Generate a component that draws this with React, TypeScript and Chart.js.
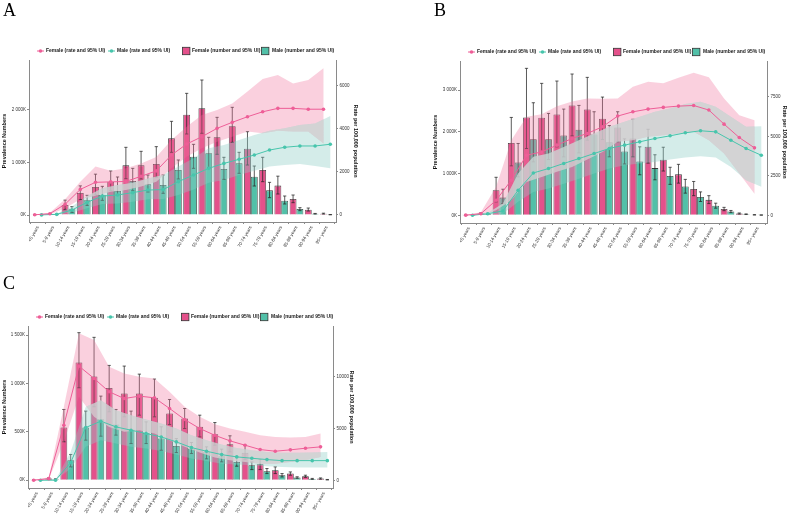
import React, { useEffect, useRef } from "react";
import { Chart, registerables } from "chart.js";

Chart.register(...registerables);

// ---------- categories ----------
const AGE_GROUPS = [
  "<5 years", "5-9 years", "10-14 years", "15-19 years", "20-24 years",
  "25-29 years", "30-34 years", "35-39 years", "40-44 years", "45-49 years",
  "50-54 years", "55-59 years", "60-64 years", "65-69 years", "70-74 years",
  "75-79 years", "80-84 years", "85-89 years", "90-94 years", "95+ years",
];

// ---------- panel A (numbers in thousands, rates per 100,000) ----------
const femaleNumA = [5, 20, 190, 419, 533, 635, 946, 946, 971, 1460, 1910, 2032, 1480, 1689, 1263, 857, 560, 305, 102, 25];
const femaleNumLoA = [2, 12, 100, 295, 385, 465, 692, 686, 717, 1194, 1543, 1556, 1156, 1384, 952, 635, 400, 235, 76, 18];
const femaleNumHiA = [9, 30, 283, 555, 778, 838, 1289, 1213, 1302, 1784, 2317, 2571, 1860, 2051, 1587, 1099, 740, 381, 133, 35];
const maleNumA = [4, 10, 112, 279, 387, 457, 648, 584, 571, 857, 1111, 1175, 876, 984, 730, 470, 273, 114, 25, 6];
const maleNumLoA = [2, 6, 50, 182, 279, 381, 463, 438, 413, 686, 889, 902, 679, 794, 552, 330, 210, 83, 18, 4];
const maleNumHiA = [7, 16, 160, 375, 546, 724, 889, 762, 762, 1048, 1346, 1480, 1099, 1194, 933, 622, 362, 140, 30, 9];
const femaleRateA = [10, 60, 500, 1190, 1520, 1540, 1560, 1800, 2050, 2790, 3300, 3640, 4030, 4310, 4570, 4800, 4960, 4960, 4920, 4920];
const femaleRateLoA = [0, 20, 310, 730, 900, 1085, 1160, 1320, 1550, 2170, 2710, 3100, 3410, 3640, 3880, 3800, 3920, 3880, 3880, 3330];
const femaleRateHiA = [20, 110, 730, 1550, 2250, 2060, 2170, 2400, 2700, 3490, 4100, 4650, 4880, 5190, 5740, 6330, 6510, 6120, 6280, 6820];
const maleRateA = [5, 30, 230, 590, 880, 930, 1040, 1160, 1180, 1550, 1860, 2170, 2400, 2590, 2790, 3020, 3150, 3210, 3210, 3290];
const maleRateLoA = [0, 10, 110, 310, 510, 540, 620, 730, 740, 930, 1190, 1500, 1630, 1860, 2060, 2250, 2330, 2370, 2280, 2170];
const maleRateHiA = [10, 60, 390, 880, 1240, 1400, 1500, 1700, 1860, 2250, 2640, 3100, 3260, 3490, 3720, 3920, 4030, 4190, 4260, 4600];

// ---------- panel B ----------
const femaleNumB = [3, 40, 600, 1730, 2344, 2336, 2416, 2632, 2536, 2312, 2100, 1840, 1640, 1330, 980, 630, 370, 150, 40, 10];
const femaleNumLoB = [1, 25, 320, 1184, 1600, 1520, 1640, 1904, 1800, 1816, 1760, 1400, 1250, 1060, 770, 470, 280, 110, 28, 6];
const femaleNumHiB = [6, 60, 910, 2344, 3520, 3160, 3216, 3384, 3304, 2832, 2480, 2300, 2060, 1630, 1220, 810, 470, 190, 55, 15];
const maleNumB = [2, 32, 424, 1264, 1824, 1824, 1912, 2048, 1936, 1750, 1530, 1290, 1130, 940, 690, 440, 230, 90, 25, 5];
const maleNumLoB = [1, 20, 280, 920, 1280, 1336, 1400, 1496, 1464, 1400, 1230, 970, 850, 740, 530, 330, 170, 65, 18, 3];
const maleNumHiB = [4, 45, 624, 1720, 2696, 2440, 2544, 2632, 2480, 2150, 1830, 1640, 1450, 1150, 860, 560, 290, 115, 33, 8];
const femaleRateB = [10, 100, 950, 2220, 3800, 4010, 4440, 4860, 5180, 5600, 6280, 6550, 6720, 6830, 6910, 6950, 6660, 5770, 4920, 4270];
const femaleRateLoB = [0, 20, 320, 950, 2110, 2430, 2750, 3060, 3530, 4010, 4650, 4750, 4970, 5070, 5180, 5280, 4750, 3910, 2640, 1370];
const femaleRateHiB = [20, 200, 1800, 4750, 6230, 6400, 6900, 7200, 7400, 7380, 7400, 8140, 8450, 8350, 8700, 9020, 8730, 7400, 6340, 6020];
const maleRateB = [5, 100, 275, 1580, 2680, 2960, 3280, 3590, 3910, 4230, 4440, 4650, 4860, 5030, 5220, 5350, 5280, 4750, 4230, 3800];
const maleRateLoB = [0, 30, 100, 850, 1480, 1690, 2000, 2320, 2640, 2960, 3170, 3280, 3380, 3530, 3660, 3740, 3660, 3060, 2220, 1800];
const maleRateHiB = [10, 150, 740, 2640, 3700, 3910, 4330, 4750, 5180, 5600, 5920, 6230, 6550, 6760, 7040, 7180, 6870, 6230, 5600, 5640];

// ---------- panel C ----------
const femaleNumC = [2, 17, 545, 1217, 1072, 952, 897, 897, 852, 690, 638, 552, 476, 372, 283, 166, 103, 69, 41, 17];
const femaleNumLoC = [1, 10, 397, 955, 759, 707, 655, 672, 655, 576, 534, 448, 362, 293, 214, 110, 69, 52, 30, 11];
const femaleNumHiC = [4, 25, 731, 1524, 1476, 1186, 1179, 1096, 1045, 834, 741, 672, 596, 459, 362, 214, 138, 86, 52, 24];
const maleNumC = [1, 10, 207, 545, 631, 576, 524, 490, 431, 355, 328, 293, 248, 190, 155, 93, 52, 28, 14, 5];
const maleNumLoC = [0, 6, 138, 414, 455, 466, 379, 379, 310, 286, 276, 221, 190, 145, 110, 69, 34, 20, 9, 3];
const maleNumHiC = [2, 15, 266, 714, 869, 731, 714, 603, 552, 431, 390, 345, 321, 241, 190, 121, 69, 36, 19, 8];
const femaleRateC = [10, 160, 5320, 11030, 9840, 8550, 7900, 8130, 7970, 6940, 5870, 5000, 4350, 3810, 3390, 2970, 2810, 2940, 3100, 3230];
const femaleRateLoC = [0, 80, 3710, 8060, 6130, 5160, 4680, 4840, 4520, 3870, 3230, 2680, 2190, 1940, 1770, 1610, 1610, 1770, 1940, 2260];
const femaleRateHiC = [20, 300, 7100, 14200, 13550, 10970, 10320, 10000, 9840, 8550, 7100, 6130, 5420, 5000, 4680, 4350, 4190, 4130, 4190, 4520];
const maleRateC = [5, 10, 1710, 5100, 5710, 5160, 4840, 4520, 4190, 3710, 3160, 2810, 2480, 2260, 2130, 2000, 1900, 1900, 1900, 1900];
const maleRateLoC = [0, 0, 1130, 3230, 3870, 3550, 3230, 3060, 2840, 2480, 2100, 1870, 1610, 1520, 1450, 1350, 1290, 1230, 1230, 1230];
const maleRateHiC = [10, 50, 2740, 7100, 7740, 6770, 6290, 5870, 5480, 5000, 4350, 3870, 3450, 3130, 2900, 2740, 2650, 2650, 2680, 2740];

// ---------- axis ticks ----------
const numTicksA = [0, 1000, 2000];
const rateTicksA = [0, 2000, 4000, 6000];
const numTicksB = [0, 1000, 2000, 3000];
const rateTicksB = [0, 2500, 5000, 7500];
const numTicksC = [0, 500, 1000, 1500];
const rateTicksC = [0, 5000, 10000];

// ---------- styling ----------
const SANS = "'Liberation Sans', Arial, sans-serif";
const FEMALE_BAR = "#E4518B";
const MALE_BAR = "#52C0A8";
const FEMALE_LINE = "#EE5E97";
const MALE_LINE = "#47C5AC";
const FEMALE_BAND = "rgba(241,112,155,0.33)";
const MALE_BAND = "rgba(141,206,198,0.38)";
const OVERLAP_BAND = "rgba(212,212,212,0.7)";
const AXIS_GREY = "#8a8a8a";
const DODGE = 0.225;

type Series = { val: number[]; lo: number[]; hi: number[] };
type PanelCfg = {
  letter: string;
  letterDy: number;
  x: number; y: number; w: number; h: number;
  left: number; right: number; top: number; bottom: number;
  numMin: number; numMax: number; rateMin: number; rateMax: number;
  numTicks: number[]; rateTicks: number[];
  fNum: Series; mNum: Series; fRate: Series; mRate: Series;
};

const PANELS: PanelCfg[] = [
  {
    letter: "A", letterDy: 0, x: 0, y: 0, w: 360, h: 260, left: 29, right: 336, top: 60, bottom: 222,
    numMin: -133, numMax: 2952, rateMin: -326, rateMax: 7209,
    numTicks: numTicksA, rateTicks: rateTicksA,
    fNum: { val: femaleNumA, lo: femaleNumLoA, hi: femaleNumHiA },
    mNum: { val: maleNumA, lo: maleNumLoA, hi: maleNumHiA },
    fRate: { val: femaleRateA, lo: femaleRateLoA, hi: femaleRateHiA },
    mRate: { val: maleRateA, lo: maleRateLoA, hi: maleRateHiA },
  },
  {
    letter: "B", letterDy: 0, x: 431, y: 0, w: 358, h: 260, left: 29, right: 336, top: 61, bottom: 223,
    numMin: -185, numMax: 3696, rateMin: -488, rateMax: 9766,
    numTicks: numTicksB, rateTicks: rateTicksB,
    fNum: { val: femaleNumB, lo: femaleNumLoB, hi: femaleNumHiB },
    mNum: { val: maleNumB, lo: maleNumLoB, hi: maleNumHiB },
    fRate: { val: femaleRateB, lo: femaleRateLoB, hi: femaleRateHiB },
    mRate: { val: maleRateB, lo: maleRateLoB, hi: maleRateHiB },
  },
  {
    letter: "C", letterDy: 7, x: 0, y: 266, w: 356, h: 249, left: 28, right: 333, top: 60, bottom: 222,
    numMin: -80, numMax: 1593, rateMin: -745, rateMax: 14908,
    numTicks: numTicksC, rateTicks: rateTicksC,
    fNum: { val: femaleNumC, lo: femaleNumLoC, hi: femaleNumHiC },
    mNum: { val: maleNumC, lo: maleNumLoC, hi: maleNumHiC },
    fRate: { val: femaleRateC, lo: femaleRateLoC, hi: femaleRateHiC },
    mRate: { val: maleRateC, lo: maleRateLoC, hi: maleRateHiC },
  },
];

function fmtK(v: number): string {
  if (v >= 1000) {
    return `${Math.floor(v / 1000)} ${String(v % 1000).padStart(3, "0")}K`;
  }
  return `${v}K`;
}

function bandPath(ctx: CanvasRenderingContext2D, chart: any, s: Series, shift: number) {
  const xs = chart.scales.x;
  const yr = chart.scales.yR;
  ctx.beginPath();
  s.hi.forEach((v, i) => {
    const px = xs.getPixelForValue(i + shift);
    const py = yr.getPixelForValue(v);
    if (i === 0) ctx.moveTo(px, py);
    else ctx.lineTo(px, py);
  });
  for (let i = s.lo.length - 1; i >= 0; i--) {
    ctx.lineTo(xs.getPixelForValue(i + shift), yr.getPixelForValue(s.lo[i]));
  }
  ctx.closePath();
}

function makeOverlay(cfg: PanelCfg) {
  let done = false;
  return {
    id: "overlay" + cfg.letter,
    beforeDraw() {
      done = false;
    },
    beforeDatasetDraw(chart: any, args: any) {
      if (done || args.meta.type !== "line") return;
      done = true;
      const ctx: CanvasRenderingContext2D = chart.ctx;
      const yl = chart.scales.yL;
      const area = chart.chartArea;
      ctx.save();
      ctx.beginPath();
      ctx.rect(area.left, area.top, area.right - area.left, area.bottom - area.top);
      ctx.clip();
      // error bars on the number bars
      [cfg.fNum, cfg.mNum].forEach((s, d) => {
        const meta = chart.getDatasetMeta(d);
        meta.data.forEach((el: any, i: number) => {
          const x = el.x;
          const yHi = yl.getPixelForValue(s.hi[i]);
          const yLo = yl.getPixelForValue(s.lo[i]);
          ctx.strokeStyle = "rgba(40,40,40,0.85)";
          ctx.lineWidth = 0.9;
          ctx.beginPath();
          ctx.moveTo(x, yHi);
          ctx.lineTo(x, yLo);
          ctx.moveTo(x - 1.6, yHi);
          ctx.lineTo(x + 1.6, yHi);
          ctx.moveTo(x - 1.6, yLo);
          ctx.lineTo(x + 1.6, yLo);
          ctx.stroke();
        });
      });
      // uncertainty ribbons for the rates
      bandPath(ctx, chart, cfg.fRate, -DODGE);
      ctx.fillStyle = FEMALE_BAND;
      ctx.fill();
      bandPath(ctx, chart, cfg.mRate, DODGE);
      ctx.fillStyle = MALE_BAND;
      ctx.fill();
      // where the two ribbons overlap
      ctx.save();
      bandPath(ctx, chart, cfg.fRate, -DODGE);
      ctx.clip();
      bandPath(ctx, chart, cfg.mRate, DODGE);
      ctx.fillStyle = OVERLAP_BAND;
      ctx.fill();
      ctx.restore();
      ctx.restore();
    },
    afterDraw(chart: any) {
      const ctx: CanvasRenderingContext2D = chart.ctx;
      const { left, top } = chart.chartArea;
      const y = top - 9;
      ctx.save();
      ctx.font = `bold 5px ${SANS}`;
      ctx.textBaseline = "middle";
      ctx.textAlign = "left";
      const lineKey = (x0: number, color: string) => {
        ctx.strokeStyle = color;
        ctx.lineWidth = 1;
        ctx.beginPath();
        ctx.moveTo(x0, y);
        ctx.lineTo(x0 + 7, y);
        ctx.stroke();
        ctx.fillStyle = color;
        ctx.beginPath();
        ctx.arc(x0 + 3.5, y, 1.8, 0, Math.PI * 2);
        ctx.fill();
      };
      const boxKey = (x0: number, color: string) => {
        ctx.fillStyle = color;
        ctx.fillRect(x0, y - 3.7, 7.4, 7.4);
        ctx.strokeStyle = "#333";
        ctx.lineWidth = 0.8;
        ctx.strokeRect(x0, y - 3.7, 7.4, 7.4);
      };
      lineKey(left + 8, FEMALE_LINE);
      lineKey(left + 79, MALE_LINE);
      boxKey(left + 153.5, FEMALE_BAR);
      boxKey(left + 232.5, MALE_BAR);
      ctx.fillStyle = "#1a1a1a";
      ctx.fillText("Female (rate and 95% UI)", left + 17, y);
      ctx.fillText("Male (rate and 95% UI)", left + 88, y);
      ctx.fillText("Female (number and 95% UI)", left + 163, y);
      ctx.fillText("Male (number and 95% UI)", left + 243, y);
      ctx.restore();
    },
  };
}

function buildConfig(cfg: PanelCfg): any {
  const barDs = (s: Series, color: string, label: string) => ({
    type: "bar",
    label,
    data: s.val.map((v, i) => ({ x: i, y: v })),
    backgroundColor: color,
    borderColor: "#3a3a3a",
    borderWidth: 0.8,
    yAxisID: "yL",
    categoryPercentage: 0.9,
    barPercentage: 1,
    order: 2,
  });
  const lineDs = (s: Series, shift: number, color: string, label: string) => ({
    type: "line",
    label,
    data: s.val.map((v, i) => ({ x: i + shift, y: v })),
    borderColor: color,
    backgroundColor: color,
    borderWidth: 1,
    pointRadius: 1.8,
    pointBorderWidth: 0,
    pointBackgroundColor: color,
    tension: 0,
    fill: false,
    yAxisID: "yR",
    order: 0,
  });
  const tickFont = { size: 4.5, family: SANS };
  const titleFont = { size: 5.5, family: SANS, weight: "bold" };
  return {
    type: "bar",
    data: {
      datasets: [
        barDs(cfg.fNum, FEMALE_BAR, "Female (number and 95% UI)"),
        barDs(cfg.mNum, MALE_BAR, "Male (number and 95% UI)"),
        lineDs(cfg.fRate, -DODGE, FEMALE_LINE, "Female (rate and 95% UI)"),
        lineDs(cfg.mRate, DODGE, MALE_LINE, "Male (rate and 95% UI)"),
      ],
    },
    options: {
      responsive: false,
      animation: false,
      devicePixelRatio: 1,
      layout: { padding: { top: cfg.top, left: 0, right: 0, bottom: 0 } },
      plugins: { legend: { display: false }, tooltip: { enabled: false } },
      scales: {
        x: {
          type: "linear",
          min: -0.6,
          max: AGE_GROUPS.length - 0.4,
          offset: false,
          afterBuildTicks: (s: any) => {
            s.ticks = AGE_GROUPS.map((_, i) => ({ value: i }));
          },
          afterFit: (s: any) => {
            s.height = cfg.h - cfg.bottom;
          },
          ticks: {
            autoSkip: false,
            minRotation: 60,
            maxRotation: 60,
            padding: 1,
            color: "#333",
            font: tickFont,
            callback: (v: number) => AGE_GROUPS[v] ?? "",
          },
          grid: { display: true, drawOnChartArea: false, tickLength: 2, color: AXIS_GREY },
          border: { display: true, color: AXIS_GREY, width: 1 },
        },
        yL: {
          type: "linear",
          position: "left",
          min: cfg.numMin,
          max: cfg.numMax,
          afterBuildTicks: (s: any) => {
            s.ticks = cfg.numTicks.map((value) => ({ value }));
          },
          afterFit: (s: any) => {
            s.width = cfg.left;
          },
          ticks: { color: "#333", font: tickFont, padding: 1, callback: (v: number) => fmtK(v) },
          grid: { display: true, drawOnChartArea: false, tickLength: 2, color: AXIS_GREY },
          border: { display: true, color: AXIS_GREY, width: 1 },
          title: {
            display: true,
            text: "Prevalence Numbers",
            color: "#111",
            font: titleFont,
            padding: { top: 1.5, bottom: 0 },
          },
        },
        yR: {
          type: "linear",
          position: "right",
          min: cfg.rateMin,
          max: cfg.rateMax,
          afterBuildTicks: (s: any) => {
            s.ticks = cfg.rateTicks.map((value) => ({ value }));
          },
          afterFit: (s: any) => {
            s.width = cfg.w - cfg.right;
          },
          ticks: { color: "#333", font: tickFont, padding: 1.5, callback: (v: number) => String(v) },
          grid: { display: true, drawOnChartArea: false, tickLength: 2, color: AXIS_GREY },
          border: { display: true, color: AXIS_GREY, width: 1 },
          title: {
            display: true,
            text: "Rate per 100,000 population",
            color: "#111",
            font: titleFont,
            padding: { top: 1, bottom: 0 },
          },
        },
      },
    },
    plugins: [makeOverlay(cfg)],
  };
}

function Panel({ cfg }: { cfg: PanelCfg }) {
  const ref = useRef<HTMLCanvasElement | null>(null);
  useEffect(() => {
    if (!ref.current) return;
    const chart = new Chart(ref.current, buildConfig(cfg));
    return () => chart.destroy();
  }, [cfg]);
  return (
    <>
      <canvas
        ref={ref}
        width={cfg.w}
        height={cfg.h}
        style={{ position: "absolute", left: cfg.x, top: cfg.y, width: cfg.w, height: cfg.h }}
      />
      <div
        style={{
          position: "absolute",
          left: cfg.x + 3,
          top: cfg.y + cfg.letterDy,
          fontFamily: "'Liberation Serif', 'Times New Roman', serif",
          fontSize: 18,
          lineHeight: "20px",
          color: "#000",
        }}
      >
        {cfg.letter}
      </div>
    </>
  );
}

export default function App() {
  return (
    <div
      style={{
        position: "fixed",
        left: 0,
        top: 0,
        width: 789,
        height: 515,
        background: "#fff",
        overflow: "hidden",
      }}
    >
      {PANELS.map((p) => (
        <Panel key={p.letter} cfg={p} />
      ))}
    </div>
  );
}
